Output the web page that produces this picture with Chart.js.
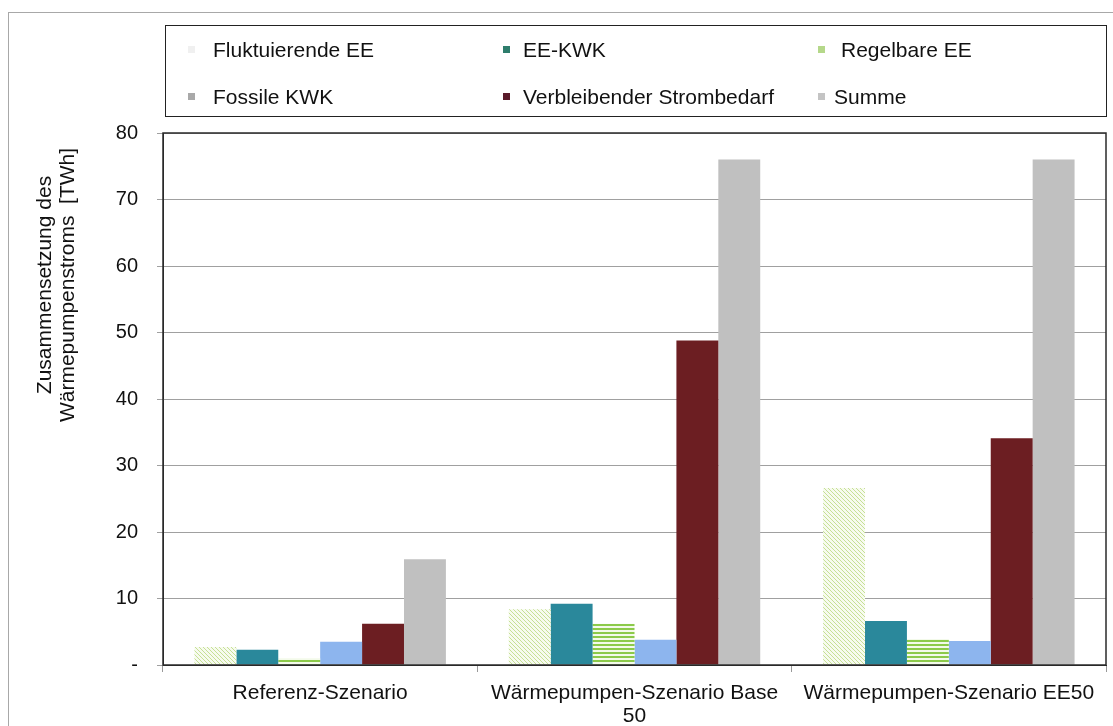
<!DOCTYPE html>
<html>
<head>
<meta charset="utf-8">
<script src="https://cdn.jsdelivr.net/npm/chart.js@4.4.1/dist/chart.umd.min.js"></script>
<style>
  body { margin: 0; background: #fff; font-family: "Liberation Sans", Arial, sans-serif; }
  #wrap { position: relative; width: 1113px; height: 726px; overflow: hidden; }
  #frame { position: absolute; left: 8px; top: 12px; width: 1120px; height: 730px;
           border-left: 1px solid #a8a8a8; border-top: 1px solid #a8a8a8; }
  #legend { position: absolute; left: 165px; top: 25px; width: 940px; height: 90px;
            border: 1.5px solid #222; }
  .item { position: absolute; font-size: 21px; color: #111; white-space: nowrap; line-height: 24px; }
  .mark { position: absolute; width: 7px; height: 7px; }
</style>
</head>
<body>
<div id="wrap">
  <div id="frame"></div>
  <canvas id="chart" width="1113" height="726"></canvas>
  <div id="legend"></div>
</div>
<script>
// DATA
const categories = ["Referenz-Szenario", ["Wärmepumpen-Szenario Base", "50"], "Wärmepumpen-Szenario EE50"];
const seriesNames = ["Fluktuierende EE", "EE-KWK", "Regelbare EE", "Fossile KWK", "Verbleibender Strombedarf", "Summe"];
const fluktuierend = [2.7, 8.4, 26.6];
const eeKwk = [2.3, 9.2, 6.6];
const regelbar = [1.0, 6.2, 3.9];
const fossilKwk = [3.5, 3.8, 3.6];
const verbleibend = [6.2, 48.8, 34.1];
const summe = [15.9, 76.0, 76.0];
const yTicks = [0, 10, 20, 30, 40, 50, 60, 70, 80];
const yTitle = ["Zusammensetzung des", "Wärmepumpenstroms  [TWh]"];

// PATTERNS
function hatch() {
  const c = document.createElement("canvas");
  c.width = 4; c.height = 4;
  const x = c.getContext("2d");
  x.fillStyle = "#f7fbef"; x.fillRect(0, 0, 4, 4);
  x.strokeStyle = "#c6e095"; x.lineWidth = 1;
  x.beginPath(); x.moveTo(0, 0); x.lineTo(4, 4); x.moveTo(-1, 3); x.lineTo(1, 5); x.moveTo(3, -1); x.lineTo(5, 1); x.stroke();
  return x.createPattern(c, "repeat");
}
function stripes() {
  const c = document.createElement("canvas");
  c.width = 4; c.height = 4;
  const x = c.getContext("2d");
  x.fillStyle = "#f3faea"; x.fillRect(0, 0, 4, 4);
  x.fillStyle = "#8cca4a"; x.fillRect(0, 0, 4, 2);
  return x.createPattern(c, "repeat");
}

const colors = [hatch(), "#2a889b", stripes(), "#8db5ee", "#6c1e22", "#c0c0c0"];
const legendColors = ["#f0f0f0", "#2e7d6c", "#b5d88a", "#a9a9a9", "#5a1a2a", "#c4c4c4"];
const values = [fluktuierend, eeKwk, regelbar, fossilKwk, verbleibend, summe];

// LEGEND (html, fixed columns like the original)
const legendPos = [[22, 47, 12], [337, 357, 12], [652, 675, 12], [22, 47, 59], [337, 357, 59], [652, 668, 59]];
const legend = document.getElementById("legend");
seriesNames.forEach((name, i) => {
  const p = legendPos[i];
  const m = document.createElement("div");
  m.className = "mark";
  m.style.left = p[0] + "px"; m.style.top = (p[2] + 8) + "px";
  m.style.background = legendColors[i];
  legend.appendChild(m);
  const t = document.createElement("div");
  t.className = "item";
  t.style.left = p[1] + "px"; t.style.top = p[2] + "px";
  t.textContent = name;
  legend.appendChild(t);
});

// plot frame + y title (title sits higher than the axis middle in the original)
const frameBox = {
  id: "frameBox",
  afterDatasetsDraw(chart) {
    const a = chart.chartArea, ctx = chart.ctx;
    ctx.save();
    ctx.strokeStyle = "#2a2a2a";
    ctx.lineWidth = 1.5;
    ctx.strokeRect(a.left, a.top, a.right - a.left, a.bottom - a.top);
    ctx.restore();
  },
  afterDraw(chart) {
    const ctx = chart.ctx;
    ctx.save();
    ctx.translate(45, 285);
    ctx.rotate(-Math.PI / 2);
    ctx.font = "21px 'Liberation Sans'";
    ctx.fillStyle = "#111";
    ctx.textAlign = "center";
    ctx.textBaseline = "middle";
    yTitle.forEach((l, i) => ctx.fillText(l, 0, i * 23));
    ctx.restore();
  }
};

const chart = new Chart(document.getElementById("chart"), {
  type: "bar",
  data: {
    labels: categories,
    datasets: seriesNames.map((n, i) => ({
      label: n,
      data: values[i],
      backgroundColor: colors[i],
      borderWidth: 0,
      categoryPercentage: 0.8,
      barPercentage: 1
    }))
  },
  options: {
    responsive: false,
    animation: false,
    layout: { padding: { left: 30, right: 7, top: 133, bottom: 0 } },
    plugins: { legend: { display: false }, tooltip: { enabled: false } },
    scales: {
      x: {
        grid: { drawOnChartArea: false, drawTicks: true, tickLength: 7, color: "#999" },
        border: { color: "#2a2a2a" },
        ticks: { color: "#111", font: { family: "Liberation Sans", size: 21, lineHeight: 1.1 }, padding: 10, maxRotation: 0, autoSkip: false },
        afterFit(s) { s.height = 61; }
      },
      y: {
        min: 0, max: 80,
        afterBuildTicks(s) { s.ticks = yTicks.map(v => ({ value: v })); },
        grid: { color: "#a0a0a0", lineWidth: 1, tickLength: 6 },
        border: { color: "#2a2a2a" },
        ticks: {
          color: "#111", padding: 19,
          font: { family: "Liberation Sans", size: 20 },
          callback: v => v === 0 ? "-" : v
        },
        afterFit(s) { s.width = 133; }
      }
    }
  },
  plugins: [frameBox]
});
</script>
</body>
</html>
